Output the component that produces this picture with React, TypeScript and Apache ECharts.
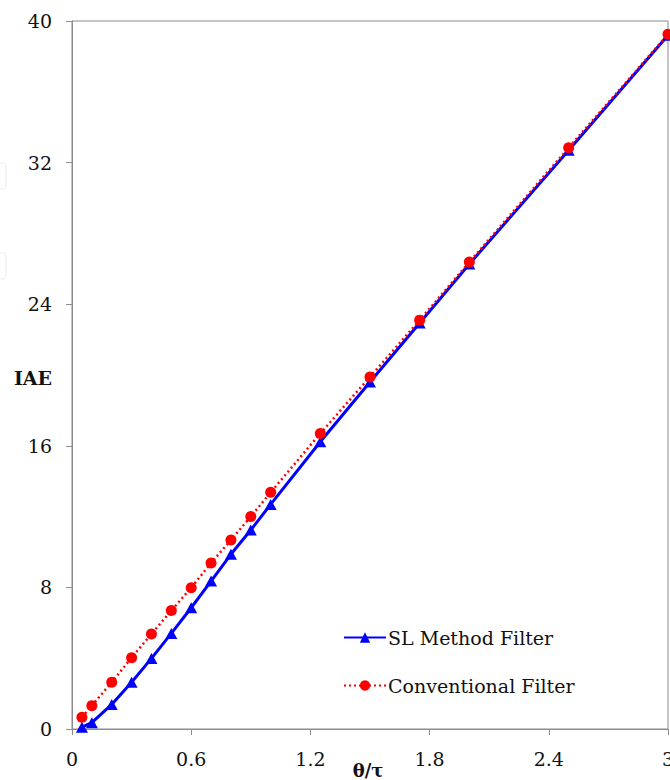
import React, { useEffect, useRef } from "react";
import * as echarts from "echarts";

const xValues = [0.05, 0.1, 0.2, 0.3, 0.4, 0.5, 0.6, 0.7, 0.8, 0.9, 1.0, 1.25, 1.5, 1.75, 2.0, 2.5, 3.0];
const slMethod = [0.1, 0.36, 1.39, 2.64, 3.99, 5.4, 6.85, 8.36, 9.87, 11.24, 12.69, 16.23, 19.6, 22.94, 26.27, 32.7, 39.2];
const conventional = [0.66, 1.32, 2.64, 4.03, 5.37, 6.69, 7.98, 9.38, 10.68, 12.0, 13.37, 16.7, 19.89, 23.1, 26.38, 32.84, 39.25];
const seriesNames = ["SL Method Filter", "Conventional Filter"];
const xAxisTitle = "θ/τ";
const yAxisTitle = "IAE";

const FONT = "DejaVu Serif";

export default function App() {
  const ref = useRef<HTMLDivElement>(null);
  useEffect(() => {
    if (!ref.current) return;
    const chart = echarts.init(ref.current, undefined, { renderer: "svg" });
    chart.setOption({
      animation: false,
      backgroundColor: "#ffffff",
      grid: {
        left: 72,
        right: 2,
        top: 21,
        bottom: 51,
        show: true,
        borderColor: "#8c8c8c",
        borderWidth: 1,
        containLabel: false,
        outerBoundsMode: "none",
      },
      legend: {
        orient: "vertical",
        left: 338,
        top: 623,
        itemWidth: 42,
        itemHeight: 13,
        itemGap: 29,
        textStyle: { fontFamily: FONT, fontSize: 19, color: "#111", padding: [0, 0, 0, -3] },
        data: seriesNames,
      },
      xAxis: {
        type: "value",
        min: 0,
        max: 3,
        interval: 0.6,
        splitLine: { show: false },
        axisLine: { lineStyle: { color: "#8c8c8c", width: 1 } },
        axisTick: { show: true, length: 6, lineStyle: { color: "#8c8c8c" } },
        axisLabel: {
          fontFamily: FONT,
          fontSize: 19,
          color: "#111",
          margin: 20,
          formatter: (v: number) => String(Math.round(v * 10) / 10),
        },
      },
      yAxis: {
        type: "value",
        min: 0,
        max: 40,
        interval: 8,
        splitLine: { show: false },
        axisLine: { show: true, lineStyle: { color: "#8c8c8c", width: 1 } },
        axisTick: { show: true, length: 6, lineStyle: { color: "#8c8c8c" } },
        axisLabel: { fontFamily: FONT, fontSize: 19, color: "#111", margin: 20 },
      },
      graphic: [
        {
          type: "text",
          x: 33,
          y: 378,
          style: {
            text: yAxisTitle,
            font: `bold 19px "${FONT}"`,
            fill: "#111",
            align: "center",
            verticalAlign: "middle",
          },
        },
        {
          type: "text",
          x: 368,
          y: 770,
          style: {
            text: xAxisTitle,
            font: `bold 18px "${FONT}"`,
            fill: "#111",
            align: "center",
            verticalAlign: "middle",
          },
        },
        {
          type: "rect",
          shape: { x: -6, y: 163, width: 12, height: 26, r: 3 },
          style: { fill: "none", stroke: "#ededed", lineWidth: 1 },
        },
        {
          type: "rect",
          shape: { x: -6, y: 253, width: 12, height: 26, r: 3 },
          style: { fill: "none", stroke: "#ededed", lineWidth: 1 },
        },
      ],
      series: [
        {
          name: seriesNames[0],
          type: "line",
          data: xValues.map((x, i) => [x, slMethod[i]]),
          symbol: "triangle",
          symbolSize: [12, 11],
          showAllSymbol: true,
          clip: false,
          itemStyle: { color: "#0000ff" },
          lineStyle: { color: "#0000ff", width: 3, type: "solid" },
          z: 2,
        },
        {
          name: seriesNames[1],
          type: "line",
          data: xValues.map((x, i) => [x, conventional[i]]),
          symbol: "circle",
          symbolSize: 11,
          showAllSymbol: true,
          clip: false,
          itemStyle: { color: "#ff0000" },
          lineStyle: { color: "#ff0000", width: 2.5, type: [2, 3] },
          z: 3,
        },
      ],
    });
    return () => chart.dispose();
  }, []);
  return (
    <div
      ref={ref}
      style={{ position: "fixed", left: 0, top: 0, width: 670, height: 780 }}
    />
  );
}
